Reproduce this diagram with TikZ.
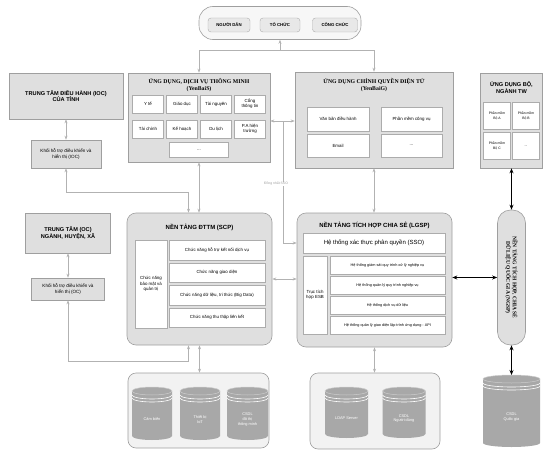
\documentclass[tikz,border=0pt]{standalone}
\usepackage{fontspec}
\setmainfont{Liberation Sans}
\newfontfamily\titleserif{Liberation Serif}
\usetikzlibrary{arrows.meta}

% database cylinder: name, centre x, top, bottom, width, label
\newcommand{\dbcyl}[6]{%
  \fill[cylbody] ({#2-#5/2},{#3+4}) -- ({#2-#5/2},{#4-4})
    arc[start angle=180, end angle=0, x radius=#5/2, y radius=4]
    -- ({#2+#5/2},{#3+4})
    arc[start angle=0, end angle=-180, x radius=#5/2, y radius=4] -- cycle;
  \draw[cylrim] ({#2},{#3+4}) ellipse [x radius=#5/2, y radius=4];
  \foreach \d in {4,7}
    \draw[cylring] ({#2-#5/2},{#3+4+\d}) arc[start angle=180, end angle=0, x radius=#5/2, y radius=4];
  \node[cyltext] (#1) at ({#2},{(#3+#4)/2+6}) {#6};
}

\begin{document}
\begin{tikzpicture}[x=1pt,y=-1pt]
	\tikzset{outer/.style = {draw=gray!75, fill=gray!25, line width=0.6pt, inner sep=0pt}}
	\tikzset{cell/.style = {draw=gray!65, fill=white, align=center, inner sep=1pt, font=\fontsize{4.4}{5.2}\selectfont}}
	\tikzset{hdr/.style = {align=center, font=\bfseries\fontsize{5.6}{6.6}\selectfont}}
	\tikzset{shdr/.style = {align=center, font=\titleserif\bfseries\fontsize{5.8}{7}\selectfont}}
	\tikzset{link/.style = {draw=gray!60, line width=0.6pt, {Stealth[length=4pt,width=3pt]}-{Stealth[length=4pt,width=3pt]}}}
	\tikzset{blink/.style = {draw=black, line width=0.9pt, {Stealth[length=5pt,width=4pt]}-{Stealth[length=5pt,width=4pt]}}}
	\tikzset{cylbody/.style = {fill=gray!68}}
	\tikzset{cylrim/.style = {draw=gray!40, line width=0.5pt}}
	\tikzset{cylring/.style = {draw=white, line width=0.6pt}}
	\tikzset{cyltext/.style = {text=white, align=center, font=\fontsize{3.9}{4.7}\selectfont}}

	\useasboundingbox (0,0) rectangle (549,452);

	% users
	\node[outer, fill=gray!6, rounded corners=14pt, minimum width=162pt, minimum height=33pt] (people) at (280,23) {};
	\node[cell, fill=gray!18, rounded corners=3pt, minimum width=42pt, minimum height=14pt, font=\bfseries\fontsize{4.3}{5}\selectfont] (dan) at (229,25) {NGƯỜI DÂN};
	\node[cell, fill=gray!18, rounded corners=3pt, minimum width=40pt, minimum height=14pt, font=\bfseries\fontsize{4.3}{5}\selectfont] (tochuc) at (280,25) {TỔ CHỨC};
	\node[cell, fill=gray!18, rounded corners=3pt, minimum width=45pt, minimum height=14pt, font=\bfseries\fontsize{4.3}{5}\selectfont] (congchuc) at (335,25) {CÔNG CHỨC};

	% provincial operation centre
	\node[outer, minimum width=114pt, minimum height=46pt, hdr] (ioc) at (66,96) {TRUNG TÂM ĐIỀU HÀNH (IOC)\\CỦA TỈNH};
	\node[outer, minimum width=70pt, minimum height=28pt, align=center, font=\fontsize{4.6}{5.6}\selectfont] (iocctl) at (66,154) {Khối hỗ trợ điều khiển và\\hiển thị (IOC)};
	\node[outer, minimum width=85pt, minimum height=40pt, hdr] (oc) at (68,233) {TRUNG TÂM (OC)\\NGÀNH, HUYỆN, XÃ};
	\node[outer, minimum width=73pt, minimum height=22pt, align=center, font=\fontsize{4.6}{5.6}\selectfont] (occtl) at (68,289) {Khối hỗ trợ điều khiển và\\hiển thị (OC)};

	% smart applications
	\node[outer, minimum width=142pt, minimum height=89pt] (yenbais) at (199,117.5) {};
	\node[shdr, anchor=north] (yenbaisT) at (199,75) {ỨNG DỤNG, DỊCH VỤ THÔNG MINH\\(YenBaiS)};
	\node[cell, minimum width=31pt, minimum height=18pt] (yte) at (148,104) {Y tế};
	\node[cell, minimum width=31pt, minimum height=18pt] (giaoduc) at (182,104) {Giáo dục};
	\node[cell, minimum width=31pt, minimum height=18pt] (tainguyen) at (216,104) {Tài nguyên};
	\node[cell, minimum width=31pt, minimum height=18pt] (congtt) at (250,104) {Cổng\\thông tin};
	\node[cell, minimum width=31pt, minimum height=18pt] (taichinh) at (148,129) {Tài chính};
	\node[cell, minimum width=31pt, minimum height=18pt] (kehoach) at (182,129) {Kế hoạch};
	\node[cell, minimum width=31pt, minimum height=18pt] (dulich) at (216,129) {Du lịch};
	\node[cell, minimum width=31pt, minimum height=18pt] (pahien) at (250,129) {P.A hiện\\trường};
	\node[cell, minimum width=59pt, minimum height=15pt] (smore) at (199,150) {...};

	% e-government applications
	\node[outer, minimum width=158pt, minimum height=96pt] (yenbaig) at (374,120) {};
	\node[shdr, anchor=north] (yenbaigT) at (374,75) {ỨNG DỤNG CHÍNH QUYỀN ĐIỆN TỬ\\(YenBaiG)};
	\node[cell, minimum width=62pt, minimum height=24pt] (vanban) at (338,119) {Văn bản điều hành};
	\node[cell, minimum width=61pt, minimum height=24pt] (congvu) at (411.5,119) {Phần mềm công vụ};
	\node[cell, minimum width=62pt, minimum height=23pt] (email) at (338,145.5) {Email};
	\node[cell, minimum width=61pt, minimum height=23pt] (gmore) at (411.5,145.5) {...};

	% ministry applications
	\node[outer, minimum width=62pt, minimum height=95pt] (bo) at (511.5,120.5) {};
	\node[hdr, anchor=north] (boT) at (511.5,78) {ỨNG DỤNG BỘ,\\NGÀNH TW};
	\node[cell, minimum width=27pt, minimum height=27pt, font=\fontsize{3.4}{4.1}\selectfont] (boa) at (497,116) {Phần mềm\\Bộ A};
	\node[cell, minimum width=27pt, minimum height=27pt, font=\fontsize{3.4}{4.1}\selectfont] (bob) at (526,116) {Phần mềm\\Bộ B};
	\node[cell, minimum width=27pt, minimum height=27pt, font=\fontsize{3.4}{4.1}\selectfont] (boc) at (497,146) {Phần mềm\\Bộ C};
	\node[cell, minimum width=27pt, minimum height=27pt, font=\fontsize{3.4}{4.1}\selectfont] (bomore) at (526,146) {...};

	% smart city platform
	\node[outer, rounded corners=9pt, minimum width=145pt, minimum height=132pt] (scp) at (199.5,279) {};
	\node[hdr, font=\bfseries\fontsize{6}{7}\selectfont] (scpT) at (199.5,227) {NỀN TẢNG ĐTTM (SCP)};
	\node[cell, minimum width=32pt, minimum height=88pt] (baomat) at (151,284) {Chức năng\\bảo mật và\\quản trị};
	\node[cell, minimum width=96pt, minimum height=19.5pt] (ketnoi) at (217,250) {Chức năng hỗ trợ kết nối dịch vụ};
	\node[cell, minimum width=96pt, minimum height=19.5pt] (giaodien) at (217,272.5) {Chức năng giao diện};
	\node[cell, minimum width=96pt, minimum height=19.5pt] (dulieu) at (217,295) {Chức năng dữ liệu, tri thức (Big Data)};
	\node[cell, minimum width=96pt, minimum height=19.5pt] (thuthap) at (217,317.5) {Chức năng thu thập liên kết};

	% integration platform
	\node[outer, rounded corners=9pt, minimum width=155pt, minimum height=134pt] (lgsp) at (374.5,280) {};
	\node[hdr, font=\bfseries\fontsize{6}{7}\selectfont] (lgspT) at (374.5,225) {NỀN TẢNG TÍCH HỢP CHIA SẺ (LGSP)};
	\node[cell, minimum width=142pt, minimum height=20pt, font=\fontsize{6}{7}\selectfont] (sso) at (374,243) {Hệ thống xác thực phân quyền (SSO)};
	\node[cell, minimum width=24pt, minimum height=78pt] (esb) at (315,295) {Trục tích\\hợp ESB};
	\node[cell, minimum width=115pt, minimum height=18pt, font=\fontsize{3.8}{4.6}\selectfont] (giamsat) at (387.5,265) {Hệ thống giám sát quy trình xử lý nghiệp vụ};
	\node[cell, minimum width=115pt, minimum height=18pt, font=\fontsize{3.8}{4.6}\selectfont] (quytrinh) at (387.5,285) {Hệ thống quản lý quy trình nghiệp vụ};
	\node[cell, minimum width=115pt, minimum height=18pt, font=\fontsize{3.8}{4.6}\selectfont] (dichvu) at (387.5,305) {Hệ thống dịch vụ dữ liệu};
	\node[cell, minimum width=115pt, minimum height=18pt, font=\fontsize{3.8}{4.6}\selectfont] (api) at (387.5,325.5) {Hệ thống quản lý giao diện lập trình ứng dụng - API};

	% national platform
	\node[outer, rounded corners=13pt, minimum width=28pt, minimum height=135pt] (ngsp) at (511.5,277.5) {};
	\node[shdr, rotate=-90, font=\titleserif\bfseries\fontsize{5.5}{6.5}\selectfont] (ngspT) at (511.5,277.5) {NỀN TẢNG TÍCH HỢP, CHIA SẺ\\DỮ LIỆU QUỐC GIA (NGSP)};

	% databases
	\node[outer, fill=gray!10, rounded corners=8pt, minimum width=141pt, minimum height=75pt] (db1) at (198.5,410.5) {};
	\node[outer, fill=gray!10, rounded corners=8pt, minimum width=130pt, minimum height=76pt] (db2) at (375,411) {};
	\dbcyl{cambien}{152}{387}{440}{40}{Cảm biến}
	\dbcyl{iot}{200}{387}{440}{40}{Thiết bị\\IoT}
	\dbcyl{csdldt}{247.5}{387}{440}{41}{CSDL\\đô thị\\thông minh}
	\dbcyl{ldap}{346.5}{387}{438}{43}{LDAP Server}
	\dbcyl{csdlnd}{404}{387}{438}{43}{CSDL\\Người dùng}
	\dbcyl{csdlqg}{511.5}{375}{447}{57}{CSDL\\Quốc gia}

	% connectors
	\coordinate (hub) at (280,50);
	\draw[link, -{Stealth[length=4pt,width=3pt]}] (hub) -- (people.south);
	\draw[link, {}-{Stealth[length=4pt,width=3pt]}] (hub) -| (yenbais.north);
	\draw[link, {}-{Stealth[length=4pt,width=3pt]}] (hub) -| (yenbaig.north);

	\coordinate (ssoj) at (283,121);
	\draw[link] (yenbais.east |- ssoj) -- (yenbaig.west |- ssoj);
	\draw[link, {}-{Stealth[length=4pt,width=3pt]}] (ssoj) |- (lgsp.west |- sso);
	\node[font=\fontsize{3.4}{4}\selectfont, text=gray!75, fill=white, inner sep=0.5pt] (ssolbl) at (276,184) {Đồng nhất SSO};

	\draw[link] (ioc) -- (iocctl);
	\draw[link] (iocctl.south) -- ++(0,24) -| ([xshift=-11pt]scp.north);
	\draw[link] (yenbais.south) -- (yenbais.south |- scp.north);
	\draw[link] (oc) -- (occtl);
	\draw[link] (occtl.south) -- ++(0,61) -| ([xshift=-11pt]scp.south);
	\draw[link] (scp.south) -- (scp.south |- db1.north);
	\draw[link] (scp.east) -- (scp.east -| lgsp.west);
	\draw[link] (yenbaig.south) -- (yenbaig.south |- lgsp.north);
	\draw[link] (lgsp.south) -- (lgsp.south |- db2.north);

	\draw[blink] (bo.south) -- (ngsp.north);
	\draw[blink] (ngsp.west) -- (ngsp.west -| lgsp.east);
	\draw[blink] (ngsp.south) -- (ngsp.south |- 0,375);

\end{tikzpicture}
\end{document}
